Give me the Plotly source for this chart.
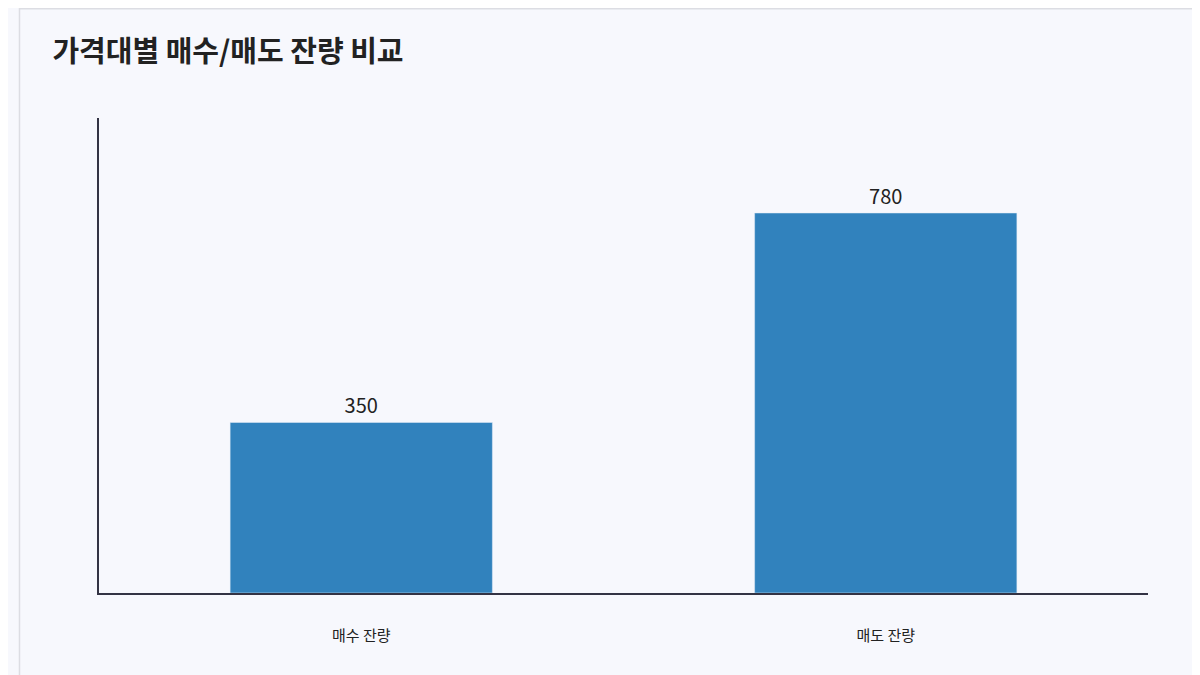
import plotly.graph_objects as go

categories = ['매수 잔량', '매도 잔량']
volumes = [350, 780]

fig = go.Figure(go.Bar(
    x=categories, y=volumes, width=0.5,
    marker=dict(color='#3182bd'),
    text=[str(v) for v in volumes], textposition='outside',
    textfont=dict(size=20, color='#222222', family='Noto Sans CJK KR'),
    cliponaxis=False,
))

fig.update_layout(
    width=1200, height=675,
    paper_bgcolor='#f7f8fd', plot_bgcolor='#f7f8fd',
    font=dict(family='Noto Sans CJK KR', color='#222222'),
    title=dict(text='<b>가격대별 매수/매도 잔량 비교</b>', x=0.037, y=0.935,
               xanchor='left', yanchor='middle', font=dict(size=29, color='#222222')),
    margin=dict(l=91, r=60, t=110, b=90),
    showlegend=False,
    xaxis=dict(showline=True, linecolor='#333344', linewidth=1.5, ticks='',
               tickfont=dict(size=15), ticklabelstandoff=28),
    yaxis=dict(range=[0, 975], showline=True, linecolor='#333344', linewidth=1.5,
               showgrid=False, showticklabels=False, ticks='', zeroline=False),
    shapes=[dict(type='rect', xref='paper', yref='paper', x0=-0.0758, x1=1.053, y0=-0.19, y1=1.23,
                 line=dict(color='#dcdde3', width=1.5), fillcolor='rgba(0,0,0,0)')],
)

fig.write_html('out.html')
